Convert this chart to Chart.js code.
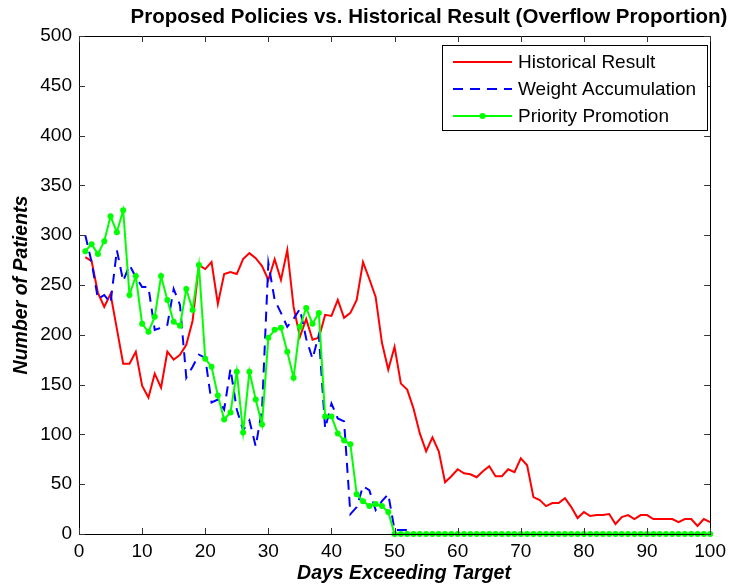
<!DOCTYPE html>
<html>
<head>
<meta charset="utf-8">
<script src="https://cdn.jsdelivr.net/npm/chart.js@4.4.1/dist/chart.umd.min.js"></script>
<style>
  html, body { margin: 0; padding: 0; background: #ffffff; }
  #wrap { width: 732px; height: 586px; }
</style>
</head>
<body>
<div id="wrap"><canvas id="c" width="732" height="586"></canvas></div>
<script>
// Day index (x) for every series
const days = [
  1,2,3,4,5,6,7,8,9,10,11,12,13,14,15,16,17,18,19,20,
  21,22,23,24,25,26,27,28,29,30,31,32,33,34,35,36,37,38,39,40,
  41,42,43,44,45,46,47,48,49,50,51,52,53,54,55,56,57,58,59,60,
  61,62,63,64,65,66,67,68,69,70,71,72,73,74,75,76,77,78,79,80,
  81,82,83,84,85,86,87,88,89,90,91,92,93,94,95,96,97,98,99,100
];

// Number of patients per day, historical policy
const historical = [
  278,274,242,228,241,206,171,171,183,149,137,161,147,183,175,180,190,214,270,266,
  273,231,261,263,261,276,282,277,269,255,276,255,285,228,198,216,195,197,220,219,
  235,217,222,235,273,256,238,192,165,188,151,145,126,101,83,97,83,52,58,65,
  61,60,57,63,68,58,58,65,62,76,69,37,34,28,31,31,36,27,16,22,
  18,19,19,20,10,17,19,15,19,19,15,15,15,15,12,15,15,8,15,12
];

// Number of patients per day, weight accumulation policy
const weightAccumulation = [
  300,273,236,240,232,285,254,270,258,248,248,205,207,210,246,230,157,168,180,177,
  132,135,125,166,125,104,114,88,125,272,235,222,208,216,226,196,176,200,106,131,
  116,113,20,27,48,44,24,33,40,4,4,4,0,0,0,0,0,0,0,0,
  0,0,0,0,0,0,0,0,0,0,0,0,0,0,0,0,0,0,0,0,
  0,0,0,0,0,0,0,0,0,0,0,0,0,0,0,0,0,0,0,0
];

// Number of patients per day, priority promotion policy
const priorityPromotion = [
  284,291,281,294,319,303,325,240,259,211,203,218,259,235,213,209,246,225,270,176,
  168,139,115,122,163,102,163,135,110,197,205,207,183,157,208,227,211,222,118,118,
  101,94,90,40,33,28,30,28,22,0,0,0,0,0,0,0,0,0,0,0,
  0,0,0,0,0,0,0,0,0,0,0,0,0,0,0,0,0,0,0,0,
  0,0,0,0,0,0,0,0,0,0,0,0,0,0,0,0,0,0,0,0
];

const seriesNames = ['Historical Result', 'Weight Accumulation', 'Priority Promotion'];
const chartTitle = 'Proposed Policies vs. Historical Result (Overflow Proportion)';
const xTitle = 'Days Exceeding Target';
const yTitle = 'Number of Patients';

const FONT = '"Liberation Sans", Arial, Helvetica, sans-serif';
const toPoints = ys => days.map((d, i) => ({ x: d, y: ys[i] }));

// Box around the plot, inward tick marks, titles and legend
const framePlugin = {
  id: 'frame',
  afterDraw(chart) {
    const { ctx, chartArea: a, scales } = chart;
    ctx.save();

    // axes box
    ctx.strokeStyle = '#000';
    ctx.lineWidth = 1;
    ctx.strokeRect(Math.round(a.left) + 0.5, Math.round(a.top) + 0.5,
                   Math.round(a.right - a.left), Math.round(a.bottom - a.top));

    // tick marks pointing into the plot on all four sides
    const tl = 6;
    ctx.strokeStyle = '#333';
    ctx.beginPath();
    scales.x.ticks.forEach(t => {
      const px = Math.round(scales.x.getPixelForValue(t.value)) + 0.5;
      ctx.moveTo(px, a.bottom); ctx.lineTo(px, a.bottom - tl);
      ctx.moveTo(px, a.top); ctx.lineTo(px, a.top + tl);
    });
    scales.y.ticks.forEach(t => {
      const py = Math.round(scales.y.getPixelForValue(t.value)) + 0.5;
      ctx.moveTo(a.left, py); ctx.lineTo(a.left + tl, py);
      ctx.moveTo(a.right, py); ctx.lineTo(a.right - tl, py);
    });
    ctx.stroke();

    // chart title
    ctx.fillStyle = '#000';
    ctx.textAlign = 'center';
    ctx.textBaseline = 'middle';
    ctx.font = 'bold 20.5px ' + FONT;
    ctx.fillText(chartTitle, 429, 17);

    // axis titles
    ctx.font = 'italic bold 19.5px ' + FONT;
    ctx.fillText(xTitle, 404, 574);
    ctx.save();
    ctx.translate(22, (a.top + a.bottom) / 2);
    ctx.rotate(-Math.PI / 2);
    ctx.fillText(yTitle, 0, 0);
    ctx.restore();

    // legend
    const lx = 442, ly = 45, lw = 265, lh = 85;
    ctx.fillStyle = '#fff';
    ctx.fillRect(lx, ly, lw, lh);
    ctx.strokeStyle = '#000';
    ctx.lineWidth = 1;
    ctx.strokeRect(lx + 0.5, ly + 0.5, lw, lh);
    ctx.font = '19px ' + FONT;
    ctx.textAlign = 'left';
    chart.data.datasets.forEach((ds, i) => {
      const y = ly + 17 + i * 27;
      ctx.save();
      ctx.strokeStyle = ds.borderColor;
      ctx.lineWidth = ds.borderWidth;
      ctx.setLineDash(ds.borderDash || []);
      ctx.beginPath();
      ctx.moveTo(453, y); ctx.lineTo(512, y);
      ctx.stroke();
      ctx.restore();
      if (ds.pointRadius > 0) {
        ctx.fillStyle = ds.backgroundColor;
        ctx.beginPath();
        ctx.arc(482.5, y, ds.pointRadius, 0, Math.PI * 2);
        ctx.fill();
      }
      ctx.fillStyle = '#000';
      ctx.fillText(ds.label, 518, y + 1);
    });
    ctx.restore();
  }
};

new Chart(document.getElementById('c'), {
  type: 'line',
  data: {
    datasets: [
      {
        label: seriesNames[0], data: toPoints(historical),
        borderColor: '#ff0000', backgroundColor: '#ff0000',
        borderWidth: 2, pointRadius: 0, order: 3, clip: false, tension: 0
      },
      {
        label: seriesNames[1], data: toPoints(weightAccumulation),
        borderColor: '#0000ff', backgroundColor: '#0000ff',
        borderWidth: 2, borderDash: [10, 7], pointRadius: 0, order: 2, clip: false, tension: 0
      },
      {
        label: seriesNames[2], data: toPoints(priorityPromotion),
        borderColor: '#00ff00', backgroundColor: '#00ff00',
        borderWidth: 2, pointRadius: 3, pointBorderWidth: 0,
        pointBackgroundColor: '#00ff00', order: 1, clip: false, tension: 0
      }
    ]
  },
  options: {
    responsive: false,
    animation: false,
    devicePixelRatio: 1,
    layout: { padding: { top: 36, right: 17, left: 0, bottom: 0 } },
    plugins: {
      legend: { display: false },
      tooltip: { enabled: false },
      title: { display: false }
    },
    scales: {
      x: {
        type: 'linear', min: 0, max: 100,
        grid: { display: false, drawTicks: false },
        border: { display: false },
        ticks: {
          stepSize: 10, color: '#000', padding: 6, maxRotation: 0,
          font: { family: FONT, size: 19 }
        },
        afterFit(scale) { scale.height = 52; }
      },
      y: {
        type: 'linear', min: 0, max: 500,
        grid: { display: false, drawTicks: false },
        border: { display: false },
        ticks: {
          stepSize: 50, color: '#000', padding: 7,
          font: { family: FONT, size: 19 }
        },
        afterFit(scale) { scale.width = 79; }
      }
    }
  },
  plugins: [framePlugin]
});
</script>
</body>
</html>
